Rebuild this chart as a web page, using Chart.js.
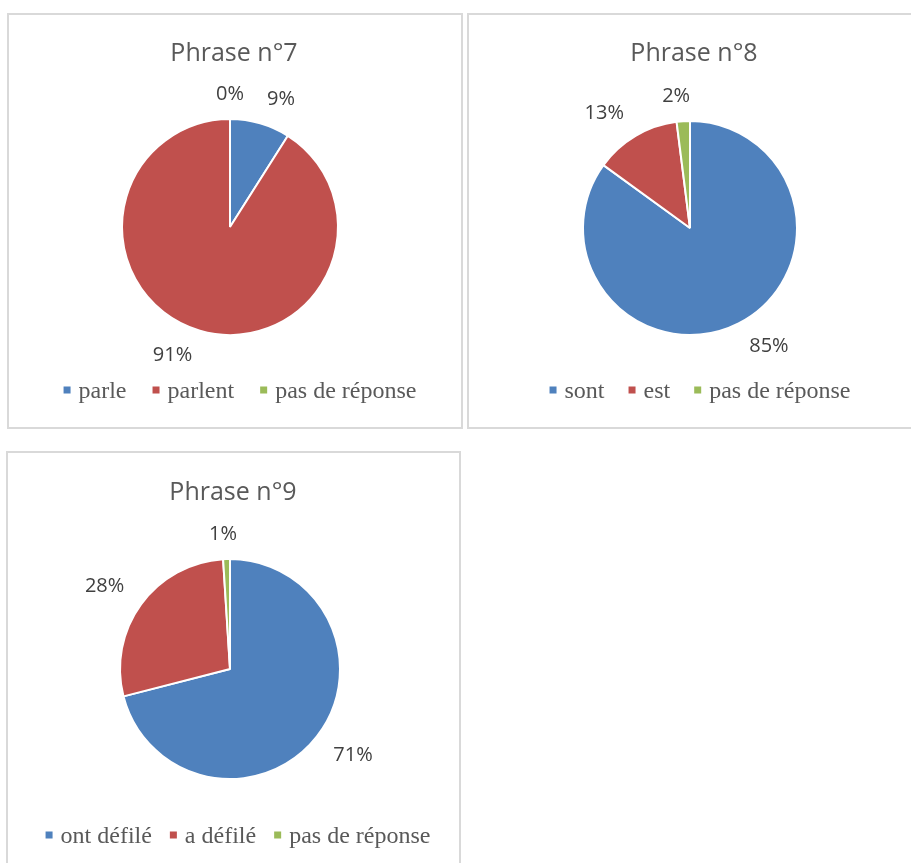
<!DOCTYPE html>
<html>
<head>
<meta charset="utf-8">
<script src="https://cdn.jsdelivr.net/npm/chart.js@4.4.1/dist/chart.umd.min.js"></script>
<style>
  html, body { margin: 0; padding: 0; background: #ffffff; overflow: hidden; width: 911px; height: 863px; }
  .box { position: absolute; border: 2px solid #D9D9D9; box-sizing: border-box; background: #fff; }
  .box canvas { display: block; }
</style>
</head>
<body>
<div class="box" id="b1" style="left:7px; top:13px; width:456px; height:416px;"><canvas id="c1"></canvas></div>
<div class="box" id="b2" style="left:467px; top:13px; width:456px; height:416px;"><canvas id="c2"></canvas></div>
<div class="box" id="b3" style="left:6px; top:451px; width:455px; height:430px;"><canvas id="c3"></canvas></div>
<script>
// ---- data ----
const titles = ['Phrase n°7', 'Phrase n°8', 'Phrase n°9'];
const categories7 = ['parle', 'parlent', 'pas de réponse'];
const values7 = [9, 91, 0];
const categories8 = ['sont', 'est', 'pas de réponse'];
const values8 = [85, 13, 2];
const categories9 = ['ont défilé', 'a défilé', 'pas de réponse'];
const values9 = [71, 28, 1];
const sliceColors = ['#4F81BD', '#C0504D', '#9BBB59'];

// ---- layout (inner-box coordinates) ----
const layouts = [
  { w: 452, h: 412, cx: 221, cy: 212, r: 108, titleX: 225, titleY: 39, legX: 231, legY: 375, itemGap: 26 },
  { w: 452, h: 412, cx: 221, cy: 213, r: 107, titleX: 225, titleY: 39, legX: 231, legY: 375, itemGap: 24 },
  { w: 451, h: 426, cx: 222, cy: 216, r: 110, titleX: 225, titleY: 40, legX: 230, legY: 382, itemGap: 18 }
];

const customDraw = {
  id: 'customDraw',
  afterDatasetsDraw(chart, args, opts) {
    const ctx = chart.ctx;
    const L = opts.layout;
    // title
    ctx.save();
    ctx.fillStyle = '#595959';
    ctx.font = '25px "Open Sans"';
    ctx.textAlign = 'center';
    ctx.textBaseline = 'middle';
    ctx.fillText(opts.title, L.titleX, L.titleY);
    ctx.restore();

    // data labels (outside end)
    const meta = chart.getDatasetMeta(0);
    const ds = chart.data.datasets[0];
    ctx.save();
    ctx.fillStyle = '#404040';
    ctx.font = '20px "Open Sans"';
    ctx.textAlign = 'center';
    ctx.textBaseline = 'middle';
    meta.data.forEach((arc, i) => {
      const p = arc.getProps(['x', 'y', 'startAngle', 'endAngle', 'outerRadius'], true);
      const mid = (p.startAngle + p.endAngle) / 2;
      const dx = Math.cos(mid), dy = Math.sin(mid);
      const txt = ds.data[i] + '%';
      const w = ctx.measureText(txt).width;
      const gap = 17;
      const sx = Math.abs(dx) < 1e-6 ? 0 : Math.sign(dx);
      const sy = Math.abs(dy) < 1e-6 ? 0 : Math.sign(dy);
      const x = p.x + dx * (p.outerRadius + gap) + sx * (w / 2) * 1.15 * Math.min(1, Math.abs(dx) * 6);
      const y = p.y + dy * (p.outerRadius + gap) + sy * 8;
      ctx.fillText(txt, x, y);
    });
    ctx.restore();

    // legend
    ctx.save();
    ctx.font = '24px "Liberation Serif"';
    ctx.textBaseline = 'middle';
    const labels = chart.data.labels;
    const box = 7, boxGap = 8, itemGap = L.itemGap;
    const widths = labels.map(l => ctx.measureText(l).width);
    const total = widths.reduce((a, b) => a + b, 0) + labels.length * (box + boxGap) + (labels.length - 1) * itemGap;
    let x = L.legX - total / 2;
    labels.forEach((l, i) => {
      ctx.fillStyle = ds.backgroundColor[i];
      ctx.fillRect(x, L.legY - box / 2, box, box);
      x += box + boxGap;
      ctx.fillStyle = '#595959';
      ctx.fillText(l, x, L.legY + 2);
      x += widths[i] + itemGap;
    });
    ctx.restore();
  }
};

function makeChart(canvasId, labels, values, title, L) {
  const cv = document.getElementById(canvasId);
  cv.width = L.w; cv.height = L.h;
  cv.style.width = L.w + 'px'; cv.style.height = L.h + 'px';
  return new Chart(cv, {
    type: 'pie',
    data: {
      labels: labels,
      datasets: [{
        data: values,
        backgroundColor: sliceColors,
        borderColor: '#ffffff',
        borderWidth: 2
      }]
    },
    options: {
      responsive: false,
      animation: false,
      radius: L.r,
      layout: {
        padding: {
          left: 0,
          right: L.w - 2 * L.cx,
          top: L.cy - L.r - 1,
          bottom: L.h - (L.cy + L.r + 1)
        }
      },
      plugins: {
        legend: { display: false },
        title: { display: false },
        tooltip: { enabled: false },
        customDraw: { title: title, layout: L }
      }
    },
    plugins: [customDraw]
  });
}

makeChart('c1', categories7, values7, titles[0], layouts[0]);
makeChart('c2', categories8, values8, titles[1], layouts[1]);
makeChart('c3', categories9, values9, titles[2], layouts[2]);
</script>
</body>
</html>
